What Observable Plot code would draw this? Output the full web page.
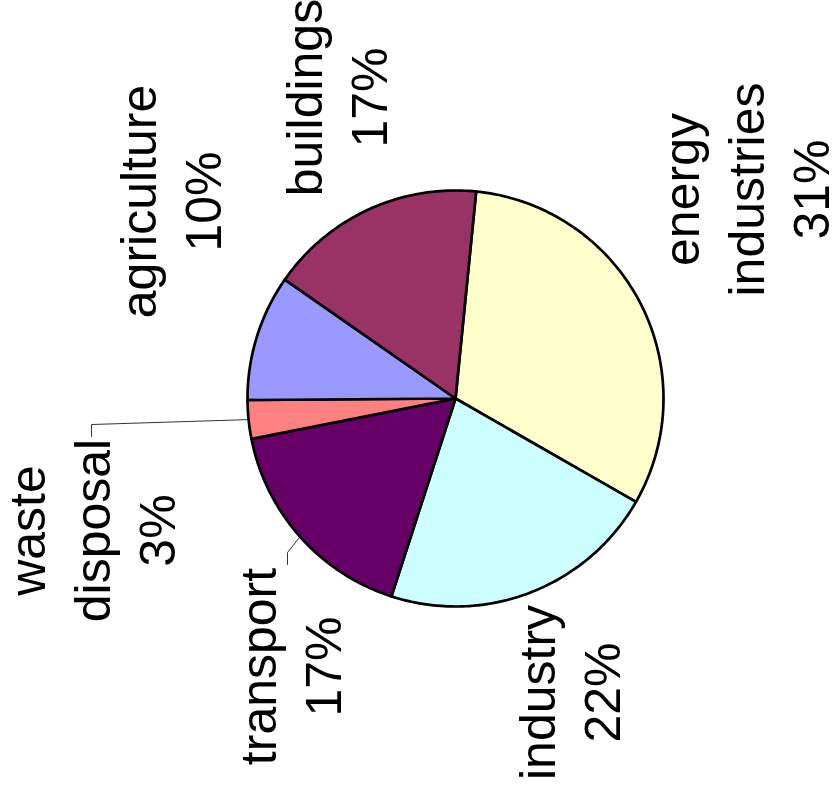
<!DOCTYPE html>
<html>
<head>
<meta charset="utf-8">
<script src="https://cdn.jsdelivr.net/npm/d3@7"></script>
<script src="https://cdn.jsdelivr.net/npm/@observablehq/plot@0.6"></script>
<style>
  html, body { margin: 0; padding: 0; background: #fff; overflow: hidden; }
  svg { display: block; }
</style>
</head>
<body>
<div id="chart"></div>
<script>
// ---- data ----
const sectors = ["energy industries", "industry", "transport", "waste disposal", "agriculture", "buildings"];
const labelText = ["energy\nindustries", "industry", "transport", "waste\ndisposal", "agriculture", "buildings"];
const shares = [31.7, 21.7, 16.9, 3.0, 9.8, 16.9];
const pctLabels = ["31%", "22%", "17%", "3%", "10%", "17%"];
const colors = ["#FFFFCC", "#CCFFFF", "#660066", "#FF8080", "#9999FF", "#993366"];

// ---- layout (not data) ----
const W = 840, H = 794;
const CX = 455, CY = 398, R = 208;      // pie centre and radius in pixels
const startAngle = 5.7;                  // degrees clockwise from 12 o'clock
const labelAnchor = [[743, 189], [566, 692], [287, 666], [89, 530], [167, 201], [333, 97]]; // px
const leaders = { // elbow and end of leader lines, px
  "waste disposal": [[91, 424], [91, 436]],
  "transport": [[287, 552], [287, 564]]
};
const toData = ([px, py]) => [(px - CX) / R, (CY - py) / R];

// ---- slice geometry from the shares ----
const total = d3.sum(shares);
let acc = startAngle;
const slices = sectors.map((s, i) => {
  const a0 = acc, a1 = acc + shares[i] / total * 360;
  acc = a1;
  return {sector: s, a0, a1, mid: (a0 + a1) / 2};
});
const polyRows = [];
for (const sl of slices) {
  polyRows.push({sector: sl.sector, x: 0, y: 0});
  const n = Math.max(2, Math.ceil(sl.a1 - sl.a0));
  for (let k = 0; k <= n; ++k) {
    const a = (sl.a0 + (sl.a1 - sl.a0) * k / n) * Math.PI / 180;
    polyRows.push({sector: sl.sector, x: Math.sin(a), y: Math.cos(a)});
  }
}

const leaderRows = [];
for (const sl of slices) {
  const pts = leaders[sl.sector];
  if (!pts) continue;
  const a = sl.mid * Math.PI / 180;
  leaderRows.push({sector: sl.sector, x: Math.sin(a), y: Math.cos(a)});
  for (const p of pts) {
    const [x, y] = toData(p);
    leaderRows.push({sector: sl.sector, x, y});
  }
}

const labelRows = sectors.map((s, i) => {
  const [x, y] = toData(labelAnchor[i]);
  return {sector: s, x, y, text: labelText[i] + "\n" + pctLabels[i]};
});

const chart = Plot.plot({
  width: W,
  height: H,
  margin: 0,
  style: {background: "#fff", overflow: "visible"},
  x: {domain: [-1, 1], range: [CX - R, CX + R], axis: null},
  y: {domain: [-1, 1], range: [CY + R, CY - R], axis: null},
  color: {domain: sectors, range: colors},
  marks: [
    Plot.line(leaderRows, {x: "x", y: "y", z: "sector", stroke: "#333", strokeWidth: 1}),
    Plot.line(polyRows, {
      x: "x", y: "y", z: "sector", fill: "sector",
      stroke: "#000", strokeWidth: 2.7, strokeLinejoin: "round",
      curve: "linear-closed"
    }),
    Plot.text(labelRows, {
      x: "x", y: "y", text: "text", rotate: -90,
      fontSize: 50, lineHeight: 1.3,
      fontFamily: "'Liberation Sans', Arial, Helvetica, sans-serif",
      fill: "#000", textAnchor: "middle", lineAnchor: "middle"
    })
  ]
});
document.getElementById("chart").appendChild(chart);
</script>
</body>
</html>
